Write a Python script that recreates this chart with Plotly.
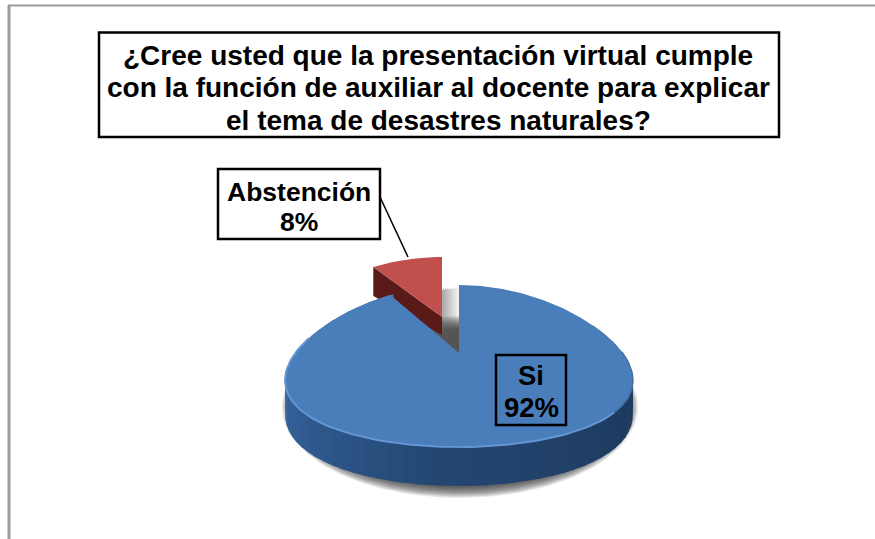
import numpy as np
import plotly.graph_objects as go

TITLE_LINES = ["¿Cree usted que la presentación virtual cumple",
               "con la función de auxiliar al docente para explicar",
               "el tema de desastres naturales?"]
CATEGORIES = ["Si", "Abstención"]
VALUES = [92, 8]
COLORS = ["#4a7ebb", "#c0504d"]

W, H = 875, 539
CX, CY, RX, RY = 459, 366, 171, 81
PERSP = 0.19

shares = np.array(VALUES, dtype=float) / sum(VALUES) * 360
si_sweep, abst_sweep = shares


def pt(t_deg, cx=CX, cy=CY, rx=RX, ry=RY):
    t = np.radians(t_deg)
    return cx + rx * np.sin(t) * (1 - PERSP * np.cos(t)), cy - ry * np.cos(t)


def lerp(stops, f):
    f = min(max(f, 0), 1) * (len(stops) - 1)
    i = min(int(f), len(stops) - 2)
    a, b = stops[i], stops[i + 1]
    return "rgb(%d,%d,%d)" % tuple(a[k] + (b[k] - a[k]) * (f - i) for k in range(3))


def depth(t_deg):
    return 33 - 6 * np.cos(np.radians(t_deg))


fig = go.Figure()


def poly(x, y, color, name=None):
    fig.add_trace(go.Scatter(x=list(x), y=list(y), mode="lines", fill="toself", fillcolor=color,
                             line=dict(width=0, color=color), hoverinfo="skip" if name is None else "text",
                             text=name, showlegend=False))


# soft ground shadow
for i in range(14):
    s = i * 1.0
    a = np.linspace(0, 360, 181)
    x = CX + 1 + (RX + 7 - s) * np.sin(np.radians(a))
    y = CY + 41 + (RY + 10 - s) * np.cos(np.radians(a))
    poly(x, y, "rgba(40,40,40,0.10)")

# shadow in the gap left by the exploded slice
for i, xs in enumerate(np.arange(438, 459, 2.0)):
    al = 0.62 * (1 - i / 11)
    poly([xs, xs + 2, xs + 2, xs], [288 + 3 * (1 - i / 11), 288, 356, 356], "rgba(90,90,90,%.3f)" % al)

# exploded slice
rcx, rcy, lift = 442, 338, 21
t_a = np.linspace(360 - abst_sweep, 360, 30)
ax, ay = pt(t_a, cx=rcx, cy=rcy)
apex = (rcx, rcy - lift)
poly([ax[0], apex[0], apex[0], ax[0]],
     [ay[0], apex[1], apex[1] + 18, ay[0] + 29], "#5a1a18")
poly(list(ax) + [apex[0]], list(ay) + [apex[1]], COLORS[1], CATEGORIES[1])

# side of the main slice with a left-to-right gradient
stops = [(26, 52, 86), (30, 60, 98), (36, 70, 112), (50, 94, 150), (66, 114, 172)]
ts = np.arange(60, 332, 4.0)
for t0 in ts:
    t1 = t0 + 4.5
    x0, y0 = pt(t0)
    x1, y1 = pt(t1)
    poly([x0, x1, x1, x0], [y0, y1, y1 + depth(t1), y0 + depth(t0)],
         lerp(stops, (t0 - 60) / (300 - 60)))

# top face of the main slice
t_b = np.linspace(0, si_sweep, 220)
bx, by = pt(t_b)
poly(list(bx) + [CX], list(by) + [CY - 13], COLORS[0], CATEGORIES[0])

# lighter rim of the top face
t_r = np.linspace(125, 290, 90)
rx_, ry_ = pt(t_r)
fig.add_trace(go.Scatter(x=rx_, y=ry_, mode="lines", line=dict(color="#6396d2", width=2),
                         hoverinfo="skip", showlegend=False))
t_r = np.linspace(80, 125, 30)
rx_, ry_ = pt(t_r)
fig.add_trace(go.Scatter(x=rx_, y=ry_, mode="lines", line=dict(color="#44709f", width=1.5),
                         hoverinfo="skip", showlegend=False))

BOLD = "Liberation Sans"
shapes = [
    dict(type="line", x0=9, x1=9, y0=5, y1=H, line=dict(color="#9c9c9c", width=3)),
    dict(type="line", x0=8, x1=W, y0=5.5, y1=5.5, line=dict(color="#9c9c9c", width=2)),
    dict(type="rect", x0=99, x1=779, y0=32.5, y1=137, fillcolor="white", line=dict(color="black", width=2.5)),
    dict(type="rect", x0=218, x1=380, y0=169, y1=239, fillcolor="white", line=dict(color="black", width=2.5)),
    dict(type="rect", x0=496, x1=566, y0=355, y1=425, line=dict(color="black", width=2.5)),
    dict(type="line", x0=380, x1=408, y0=197, y1=257, line=dict(color="black", width=1.5)),
]


def label(text, x, y, size):
    return dict(x=x, y=y, text="<b>%s</b>" % text, showarrow=False,
                font=dict(family=BOLD, size=size, color="black"), xanchor="center", yanchor="middle")


anns = [label(line, 438, y, 28) for line, y in zip(TITLE_LINES, [55, 87, 120])]
anns += [label(CATEGORIES[1], 298.5, 192, 26.5), label("%d%%" % VALUES[1], 298.5, 222, 26.5),
         label(CATEGORIES[0], 531, 375, 27.5), label("%d%%" % VALUES[0], 531, 407, 27.5)]

fig.update_layout(
    width=W, height=H, margin=dict(l=0, r=0, t=0, b=0),
    paper_bgcolor="white", plot_bgcolor="white", showlegend=False,
    xaxis=dict(range=[0, W], visible=False, fixedrange=True),
    yaxis=dict(range=[H, 0], visible=False, fixedrange=True),
    shapes=shapes, annotations=anns,
)
fig.write_html("out.html", config={"displayModeBar": False},
               post_script="document.body.style.margin='0';document.body.style.overflow='hidden';")
